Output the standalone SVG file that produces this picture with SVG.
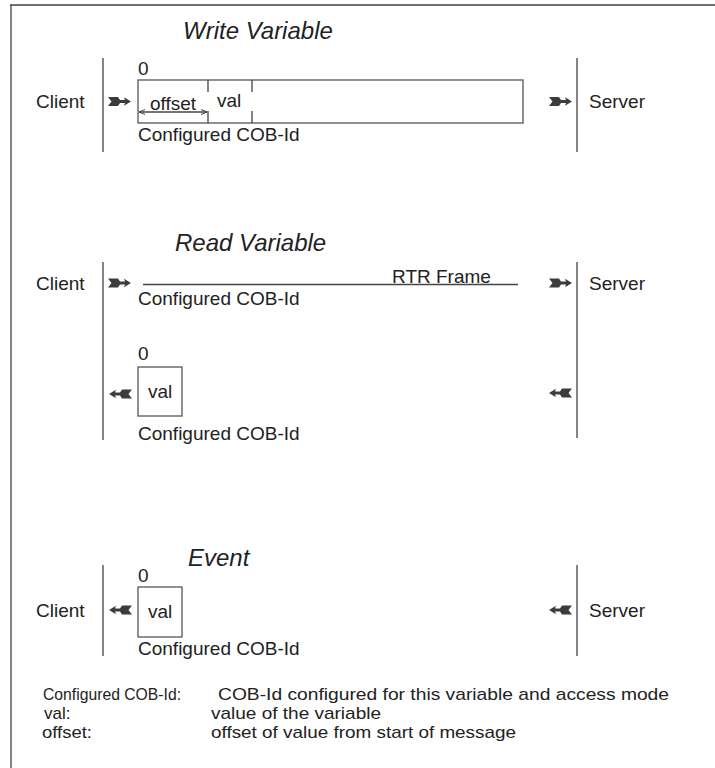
<svg xmlns="http://www.w3.org/2000/svg" width="715" height="768" viewBox="0 0 715 768">
<defs>
<style>
text{font-family:"Liberation Sans",Arial,sans-serif;font-size:19px;fill:#222}
.title{font-size:24px;font-style:italic}
.lg{font-size:17px}
.ln{stroke:#444;stroke-width:1.3;fill:none}
.box{stroke:#555;stroke-width:1.3;fill:#fff}
.arr{fill:#3c3c3c}
</style>
<path id="ar" d="M0,-4.5 L10,-4.5 L12,-1.5 L17,-1.5 L16,-4.2 L23,0 L16,4.2 L17,1.5 L12,1.5 L10,4.5 L0,4.5 L3.5,0 Z"/>
<marker id="mh" viewBox="0 0 6 6" refX="6" refY="3" markerWidth="6" markerHeight="6" orient="auto-start-reverse" markerUnits="userSpaceOnUse">
<path d="M0,0.5 L6,3 L0,5.5" fill="none" stroke="#444" stroke-width="1"/>
</marker>
</defs>
<rect width="715" height="768" fill="#fff"/>
<path class="ln" d="M10,5 H715 M11,5 V768" stroke-width="1.6"/>

<g id="write">
<text class="title" x="183" y="39">Write Variable</text>
<g id="write-client"><line class="ln" x1="103" y1="58" x2="103" y2="152"/><text x="36" y="108">Client</text></g>
<g id="write-server"><line class="ln" x1="577" y1="58" x2="577" y2="152"/><text x="589" y="108">Server</text></g>
<g id="write-frame">
<text x="138" y="75">0</text>
<rect class="box" x="138" y="80" width="385" height="43"/>
<path class="ln" d="M208,80 V92 M208,111 V123 M252,80 V92 M252,111 V123"/>
<text x="150" y="110">offset</text>
<text x="217" y="107">val</text>
<text x="138" y="141">Configured COB-Id</text>
</g>
</g>

<g id="read">
<text class="title" x="175" y="251">Read Variable</text>
<g id="read-client"><line class="ln" x1="103" y1="262" x2="103" y2="440"/><text x="36" y="290">Client</text></g>
<g id="read-server"><line class="ln" x1="577" y1="262" x2="577" y2="438"/><text x="589" y="290">Server</text></g>
<g id="read-rtr">
<text x="392" y="283">RTR Frame</text>
<text x="138" y="305">Configured COB-Id</text>
</g>
<g id="read-resp">
<text x="138" y="360">0</text>
<rect class="box" x="138" y="367" width="44" height="49"/>
<text x="148" y="398">val</text>
<text x="138" y="440">Configured COB-Id</text>
</g>
</g>

<g id="event">
<text class="title" x="188" y="566">Event</text>
<g id="event-client"><line class="ln" x1="103" y1="565" x2="103" y2="656"/><text x="36" y="617">Client</text></g>
<g id="event-server"><line class="ln" x1="577" y1="565" x2="577" y2="656"/><text x="589" y="617">Server</text></g>
<g id="event-frame">
<text x="138" y="582">0</text>
<rect class="box" x="138" y="587" width="44" height="50"/>
<text x="148" y="618">val</text>
<text x="138" y="655">Configured COB-Id</text>
</g>
</g>

<g id="legend">
<text class="lg" x="43" y="700" textLength="138" lengthAdjust="spacingAndGlyphs">Configured COB-Id:</text>
<text class="lg" x="218" y="700" textLength="451" lengthAdjust="spacingAndGlyphs">COB-Id configured for this variable and access mode</text>
<text class="lg" x="44" y="719">val:</text>
<text class="lg" x="211" y="719" textLength="170" lengthAdjust="spacingAndGlyphs">value of the variable</text>
<text class="lg" x="42" y="738" textLength="50" lengthAdjust="spacingAndGlyphs">offset:</text>
<text class="lg" x="211" y="738" textLength="305" lengthAdjust="spacingAndGlyphs">offset of value from start of message</text>
</g>

<g id="connectors">
<use href="#ar" class="arr" transform="translate(108,101.5)"/>
<use href="#ar" class="arr" transform="translate(549,101.5)"/>
<line class="ln" x1="139" y1="112" x2="207" y2="112" stroke-width="1" marker-start="url(#mh)" marker-end="url(#mh)"/>
<use href="#ar" class="arr" transform="translate(108,283)"/>
<use href="#ar" class="arr" transform="translate(549,283)"/>
<line class="ln" x1="143" y1="284.5" x2="518" y2="284.5" stroke-width="1.2"/>
<use href="#ar" class="arr" transform="translate(132,394) scale(-1,1)"/>
<use href="#ar" class="arr" transform="translate(572,393) scale(-1,1)"/>
<use href="#ar" class="arr" transform="translate(132,610) scale(-1,1)"/>
<use href="#ar" class="arr" transform="translate(572,610) scale(-1,1)"/>
</g>
</svg>
